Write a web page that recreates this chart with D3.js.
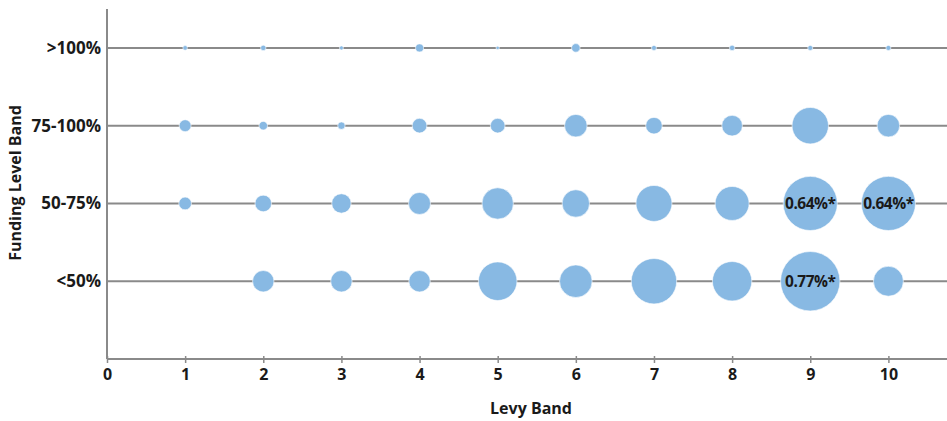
<!DOCTYPE html>
<html>
<head>
<meta charset="utf-8">
<script src="https://cdn.jsdelivr.net/npm/d3@7"></script>
<style>
  html, body { margin: 0; padding: 0; background: #fff; }
  svg { display: block; font-family: "Open Sans", "DejaVu Sans", sans-serif; }
</style>
</head>
<body>
<svg id="chart" width="947" height="421"></svg>
<script>
// Levy bands (x) and funding level bands (y)
const levyBands = [1, 2, 3, 4, 5, 6, 7, 8, 9, 10];
const xTicks = [0, 1, 2, 3, 4, 5, 6, 7, 8, 9, 10];
const fundingBands = ["<50%", "50-75%", "75-100%", ">100%"];

// Bubble values (% estimated from area), one array per funding band; null = no bubble
const under50 = [null, 0.10, 0.10, 0.10, 0.325, 0.232, 0.45, 0.339, 0.77, 0.196];
const band50to75 = [0.035, 0.060, 0.082, 0.106, 0.215, 0.164, 0.283, 0.252, 0.64, 0.64];
const band75to100 = [0.031, 0.016, 0.012, 0.047, 0.047, 0.111, 0.060, 0.093, 0.29, 0.111];
const over100 = [0.0046, 0.0064, 0.0035, 0.014, 0.0025, 0.016, 0.0055, 0.0064, 0.0055, 0.0055];

// Labels printed inside bubbles
const bubbleLabels = [
  { band: "50-75%", levy: 9, text: "0.64%*" },
  { band: "50-75%", levy: 10, text: "0.64%*" },
  { band: "<50%", levy: 9, text: "0.77%*" }
];

const seriesByBand = {
  "<50%": under50,
  "50-75%": band50to75,
  "75-100%": band75to100,
  ">100%": over100
};

const svg = d3.select("#chart");
const mLeft = 107, mRight = 947, mTop = 9, mBottom = 359;

const x = d3.scaleLinear().domain([0, 10.75]).range([mLeft, mRight]);
const yIndex = d3.scaleLinear().domain([0, 4.5]).range([mBottom, mTop]);
const y = band => yIndex(fundingBands.indexOf(band) + 1);
const r = d3.scaleSqrt().domain([0, 0.77]).range([0, 29.7]);

const axisColor = "#8a8a8a";
const textColor = "#1a1a1a";

// Gridlines
svg.append("g")
  .selectAll("line")
  .data(fundingBands)
  .join("line")
  .attr("x1", mLeft).attr("x2", mRight)
  .attr("y1", d => y(d)).attr("y2", d => y(d))
  .attr("stroke", axisColor).attr("stroke-width", 2);

// Y axis line
svg.append("line")
  .attr("x1", mLeft).attr("x2", mLeft).attr("y1", mTop).attr("y2", mBottom)
  .attr("stroke", axisColor).attr("stroke-width", 2);

// Y labels
svg.append("g")
  .selectAll("text")
  .data(fundingBands)
  .join("text")
  .attr("x", mLeft - 6)
  .attr("y", d => y(d))
  .attr("dy", "0.35em")
  .attr("text-anchor", "end")
  .attr("font-size", 17)
  .attr("font-weight", 700)
  .attr("fill", textColor)
  .text(d => d);

// X axis
const xAxis = svg.append("g")
  .attr("transform", `translate(0,${mBottom})`)
  .call(d3.axisBottom(x).tickValues(xTicks).tickFormat(d3.format("d")).tickSize(4).tickPadding(6));
xAxis.select(".domain").attr("stroke", axisColor).attr("stroke-width", 2)
  .attr("d", `M${mLeft},0H${mRight}`);
xAxis.selectAll(".tick line").attr("stroke", axisColor).attr("stroke-width", 1.5).attr("y1", -3);
xAxis.selectAll(".tick text")
  .attr("font-size", 16).attr("font-weight", 700).attr("fill", textColor)
  .attr("font-family", "'Open Sans', sans-serif");

// Bubbles
const points = [];
fundingBands.forEach(band => {
  seriesByBand[band].forEach((v, i) => {
    if (v != null) points.push({ band, levy: levyBands[i], v });
  });
});

svg.append("g")
  .selectAll("circle")
  .data(points)
  .join("circle")
  .attr("cx", d => x(d.levy))
  .attr("cy", d => y(d.band))
  .attr("r", d => r(d.v))
  .attr("fill", "#88b9e3")
  .attr("stroke", "#ffffff")
  .attr("stroke-width", 0.6);

// Bubble labels
svg.append("g")
  .selectAll("text")
  .data(bubbleLabels)
  .join("text")
  .attr("x", d => x(d.levy))
  .attr("y", d => y(d.band))
  .attr("dy", "0.35em")
  .attr("text-anchor", "middle")
  .attr("font-size", 15.5)
  .attr("font-weight", 700)
  .attr("letter-spacing", "-0.5")
  .attr("fill", textColor)
  .text(d => d.text);

// Axis titles
svg.append("text")
  .attr("x", 531)
  .attr("y", 414)
  .attr("text-anchor", "middle")
  .attr("font-size", 16)
  .attr("font-weight", 700)
  .attr("fill", textColor)
  .text("Levy Band");

svg.append("text")
  .attr("transform", `translate(21,${(103 + 263) / 2}) rotate(-90)`)
  .attr("text-anchor", "middle")
  .attr("font-size", 16)
  .attr("font-weight", 700)
  .attr("fill", textColor)
  .text("Funding Level Band");
</script>
</body>
</html>
